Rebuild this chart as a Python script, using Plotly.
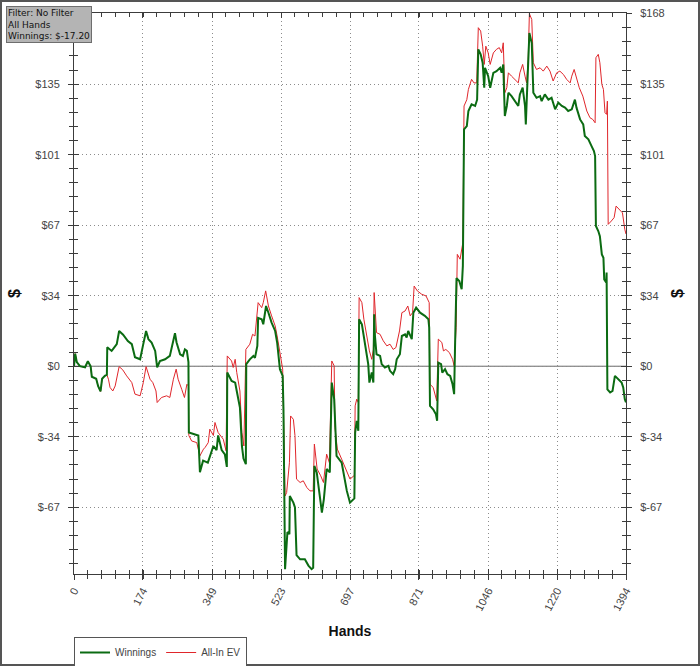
import plotly.graph_objects as go

# hands played / cumulative winnings ($)
win_hands = [0, 3, 7, 15, 28, 35, 42, 45, 56, 61, 67, 71, 78, 83, 84, 95, 98, 108, 114, 124,
             136, 146, 154, 167, 174, 182, 188, 196, 205, 210, 217, 230, 242, 247, 255, 259, 268, 275, 280, 285,
             289, 290, 301, 314, 318, 326, 338, 343, 352, 360, 364, 373, 381, 386, 387, 398, 407, 411, 419, 424,
             428, 434, 435, 444, 453, 457, 463, 465, 474, 478, 485, 491, 499, 508, 513, 520, 527, 529, 533, 539,
             544, 545, 554, 558, 562, 571, 583, 592, 600, 604, 607, 613, 621, 626, 631, 638, 646, 651, 657, 663,
             676, 689, 697, 708, 710, 714, 718, 720, 727, 732, 739, 743, 746, 752, 756, 758, 760, 764, 773, 777,
             785, 794, 798, 806, 811, 815, 823, 828, 836, 840, 844, 853, 857, 864, 874, 886, 895, 897, 899, 907,
             914, 917, 920, 927, 930, 937, 943, 950, 956, 960, 962, 966, 973, 979, 982, 985, 992, 996, 1004, 1013,
             1018, 1021, 1027, 1032, 1036, 1038, 1046, 1051, 1059, 1067, 1076, 1080, 1084, 1088, 1093, 1097, 1105, 1114, 1122, 1126,
             1133, 1139, 1141, 1145, 1150, 1156, 1160, 1168, 1177, 1181, 1189, 1198, 1206, 1215, 1223, 1232, 1240, 1248, 1257, 1265,
             1269, 1278, 1286, 1290, 1299, 1307, 1313, 1316, 1318, 1324, 1328, 1333, 1337, 1339, 1344, 1345, 1347, 1354, 1360, 1366,
             1375, 1383, 1387, 1391, 1394]
win_values = [0, 6, 2, 0, -0.5, 2.4, 0, -5, -6, -9.5, -12, -6, -4.6, -4, 9, 7.3, 8, 10.5, 16.8, 15,
              12, 10.5, 4.3, 3.3, 9.7, 16.8, 12.9, 11.3, 7.3, -0.5, 2.5, 3.3, 4.9, 9, 15.7, 11.3, 5.7, 4.9, 8, 7.3,
              2, -31.6, -32.4, -33, -50.5, -45, -45.9, -42.7, -38, -40, -33, -40, -42, -48, -3, -7, -7.8, -11.8, -19.7, -38,
              -44, -46.7, 1, 3.3, 4.9, 4, 9.7, 23, 22.4, 20, 28.7, 25.5, 20.8, 16.8, 11.3, -1.4, -4.6, -20.5, -96.7, -79,
              -80, -61.8, -65, -67.3, -90, -92, -92, -95, -96.7, -96, -47.5, -50.6, -61.8, -69.7, -63.3, -49, -50.6, -7.8, -15.7, -42.7,
              -46, -59.4, -65, -63, -31.6, -26, -30.8, 22.4, 20, 14.4, 7.3, 1, -7.8, -3, -7.8, 24.8, 14.4, 5.7, 4.9, 1,
              -0.6, 0.2, -2.2, -3.8, -1.4, 3.3, 5.7, 14.4, 15.2, 13.7, 16.8, 12.9, 25.5, 27.9, 25.5, 24, 22.4, 18.4, -18.9, -20.5,
              -22.9, -26, 1.7, 1, -3, -1.4, -3.8, -4.6, -8.6, -13.3, 7, 42, 40.6, 36.7, 47.8, 112.9, 114.4, 121.6, 124.8, 124,
              127, 151, 148.6, 144.6, 132.7, 142.2, 138.2, 132.7, 139.8, 140.6, 142.2, 139.8, 143.8, 119.2, 124, 130.3, 128.7, 126.3, 124, 129.5,
              132.7, 124, 115.2, 135, 158.8, 154, 130.3, 127.9, 128.7, 126.3, 129.5, 127, 127.9, 122.4, 125.6, 124, 123.2, 121.6, 122.4, 127,
              123.2, 117.6, 115.2, 109.7, 108.1, 104.9, 102.5, 100.1, 66.8, 64.4, 62, 53.3, 51.7, 41.4, 39.9, 44.6, -11, -12.5, -11.8, -4.6,
              -6.2, -7.8, -10.1, -15.7, -17.2]

# hands played / all-in adjusted expected value ($)
ev_hands = [0, 3, 7, 15, 28, 35, 42, 45, 56, 61, 67, 71, 78, 83, 87, 91, 98, 104, 114, 123,
            133, 140, 146, 154, 167, 175, 182, 192, 199, 207, 210, 221, 234, 242, 251, 258, 263, 272, 279, 285,
            289, 290, 297, 310, 318, 327, 331, 339, 343, 352, 356, 364, 377, 384, 387, 398, 402, 407, 411, 419,
            424, 429, 434, 444, 451, 457, 465, 474, 478, 484, 491, 499, 508, 513, 518, 527, 533, 537, 544, 547,
            554, 558, 562, 571, 579, 588, 596, 604, 607, 614, 623, 630, 638, 645, 651, 657, 659, 665, 676, 689,
            697, 708, 710, 714, 718, 720, 727, 732, 739, 746, 752, 756, 758, 761, 764, 773, 781, 790, 798, 806,
            813, 822, 828, 836, 843, 849, 855, 859, 867, 878, 889, 897, 899, 907, 916, 920, 929, 933, 939, 948,
            956, 960, 962, 965, 968, 975, 982, 985, 992, 996, 1004, 1010, 1017, 1021, 1027, 1032, 1036, 1040, 1046, 1051,
            1059, 1067, 1074, 1080, 1084, 1088, 1093, 1097, 1105, 1114, 1122, 1126, 1133, 1139, 1143, 1147, 1150, 1156, 1160, 1168,
            1177, 1185, 1194, 1202, 1210, 1219, 1227, 1236, 1244, 1253, 1257, 1263, 1269, 1276, 1285, 1290, 1295, 1303, 1310, 1316,
            1318, 1324, 1328, 1333, 1337, 1341, 1345, 1347, 1349, 1357, 1364, 1369, 1377, 1385, 1391, 1394]
ev_values = [0, 6, 2, 0, -0.5, 2.4, 0, -5, -6, -9.5, -12, -6, -4.6, -4, -6.2, -10.1, -11.8, -9.4, -0.2, -1.7,
             -4.6, -6.2, -7.8, -13.3, -14.1, -7.8, -0.2, -6.2, -7.8, -11.8, -17.3, -14.9, -14.1, -14.9, -6.2, -1.4, -6.2, -11, -14.9, -8.6,
             -9.4, -33, -35.6, -36.4, -42.7, -39.5, -38.7, -36.4, -30, -33, -26.8, -31.6, -34.8, -40.3, 4.9, 2.5, -0.6, 3.3, -3, -11.8,
             -31.6, -38, 8, 10.5, 15.2, 14.4, 30.3, 27.9, 30.3, 35.9, 28.7, 24, 19.2, 14.4, 8, -1.4, -61.8, -60.2, -46, -23.7,
             -25.3, -33, -53.8, -55.4, -54.6, -57.8, -59.4, -59.4, -37.1, -49, -52.2, -55.4, -41.9, -46, 2.5, 0.2, -29.2, -39.5, -44.3, -50.6,
             -53.8, -52, -18.9, -15.7, -17.3, 32.7, 30.3, 22.4, 14.4, 7.3, 3.3, 8, 35.1, 25.5, 16, 15.2, 12.1, 9.7, 10.5, 8,
             8.9, 16.8, 25.5, 26.3, 28.7, 24, 25.5, 38.2, 35.9, 34.3, 33.5, 30.3, -8.6, -10.1, -16.5, 12.9, 11.3, 7.3, 8, 6.5,
             3.3, 0.2, 8, 18.4, 53.3, 51, 58.9, 124, 127, 131.9, 136.7, 135, 135, 161.3, 159.7, 152.5, 143.8, 152.5, 149.3, 143.8,
             149.3, 151, 151.8, 149.3, 154.1, 130.3, 132.7, 139.8, 138.2, 136.7, 135, 139.8, 143.8, 138.2, 135, 146.2, 168, 165.2, 144.6, 141.4,
             142.2, 140.6, 143, 140.6, 135.9, 139.8, 140.6, 139, 136.7, 135, 138.2, 141.4, 136.7, 132.7, 128.7, 124.8, 121.6, 118.4, 117.6, 116,
             147, 148.6, 144.6, 134.3, 131.9, 120.8, 120, 126.3, 67.6, 69.2, 70.8, 76.3, 74.8, 73.1, 65.2, 63]

x_ticks = [0, 174, 349, 523, 697, 871, 1046, 1220, 1394]
y_tickvals = [-67.2, -33.6, 0, 33.6, 67.2, 100.8, 134.4, 168]
y_ticktext = ['$-67', '$-34', '$0', '$34', '$67', '$101', '$135', '$168']

W, H = 700, 666
M = dict(l=74, r=74, t=13, b=92, autoexpand=False)
PW, PH = W - M['l'] - M['r'], H - M['t'] - M['b']
AXIS_COLOR = '#3c3c3c'
GRID_COLOR = '#8c8c8c'
TICK_FONT = dict(family='Liberation Sans, Arial', size=11, color='#444444')
TITLE_FONT = dict(family='Liberation Sans, Arial', size=16, color='#111111')
X_RANGE = [0, 1394]
Y_RANGE = [-99, 168.3]


def px_x(px):
    return (px - M['l']) / PW


def px_y(py):
    return (H - M['b'] - py) / PH


fig = go.Figure()

fig.add_trace(go.Scatter(x=ev_hands, y=ev_values, mode='lines', name='All-In EV',
                         line=dict(color='#e0262b', width=1), legendrank=2))
fig.add_trace(go.Scatter(x=win_hands, y=win_values, mode='lines', name='Winnings',
                         line=dict(color='#0b6b12', width=2), legendrank=1))
# empty traces so the helper axes get drawn
for xa, ya in [('x2', 'y'), ('x', 'y2'), ('x', 'y3')]:
    fig.add_trace(go.Scatter(x=[None], y=[None], xaxis=xa, yaxis=ya, showlegend=False, hoverinfo='skip'))

common_x = dict(range=X_RANGE, tickvals=x_ticks, showline=True, linecolor=AXIS_COLOR, linewidth=1,
                tickcolor=AXIS_COLOR, zeroline=False, automargin=False)
common_y = dict(range=Y_RANGE, tickvals=y_tickvals, showline=True, linecolor=AXIS_COLOR, linewidth=1,
                tickcolor=AXIS_COLOR, zeroline=False, automargin=False)

fig.update_layout(
    width=W, height=H,
    margin=M,
    plot_bgcolor='white',
    paper_bgcolor='white',
    font=TICK_FONT,
    xaxis=dict(
        **common_x,
        ticktext=[str(v) for v in x_ticks],
        ticks='outside', ticklen=5,
        minor=dict(dtick=34.85, ticks='outside', ticklen=4, tickcolor=AXIS_COLOR, showgrid=False),
        tickangle=-62,
        tickfont=TICK_FONT,
        showgrid=True, gridcolor=GRID_COLOR, griddash='1px,3px', gridwidth=1,
        title=dict(text='<b>Hands</b>', font=dict(family='Liberation Sans, Arial', size=14, color='#111111'),
                   standoff=14),
    ),
    xaxis2=dict(
        **common_x,
        overlaying='x', side='bottom', anchor='y',
        ticks='inside', ticklen=5, mirror='ticks',
        minor=dict(dtick=34.85, ticks='inside', ticklen=4, tickcolor=AXIS_COLOR, showgrid=False),
        showticklabels=False, showgrid=False,
    ),
    yaxis=dict(
        **common_y,
        ticktext=y_ticktext,
        ticks='outside', ticklen=5, ticklabelstandoff=6,
        minor=dict(dtick=6.72, ticks='outside', ticklen=4, tickcolor=AXIS_COLOR, showgrid=False),
        tickfont=TICK_FONT,
        showgrid=True, gridcolor=GRID_COLOR, griddash='1px,3px', gridwidth=1,
        title=dict(text='<b>$</b>', font=TITLE_FONT, standoff=10),
    ),
    yaxis2=dict(
        **common_y,
        overlaying='y', side='right', anchor='x',
        ticktext=y_ticktext,
        ticks='outside', ticklen=5, ticklabelstandoff=6,
        minor=dict(dtick=6.72, ticks='outside', ticklen=4, tickcolor=AXIS_COLOR, showgrid=False),
        tickfont=TICK_FONT, showgrid=False,
        title=dict(text='<b>$</b>', font=TITLE_FONT, standoff=8),
    ),
    yaxis3=dict(
        **common_y,
        overlaying='y', side='left', anchor='x',
        ticks='inside', ticklen=5, mirror='ticks',
        minor=dict(dtick=6.72, ticks='inside', ticklen=4, tickcolor=AXIS_COLOR, showgrid=False),
        showticklabels=False, showgrid=False,
    ),
    legend=dict(
        orientation='h',
        x=px_x(74), y=px_y(637), xanchor='left', yanchor='top',
        bgcolor='white', bordercolor='#555555', borderwidth=1,
        font=dict(family='Liberation Sans, Arial', size=10, color='#444444'),
        itemwidth=30, tracegroupgap=0,
    ),
    showlegend=True,
)

# zero line
fig.add_shape(type='line', xref='paper', yref='y', x0=0, x1=1, y0=0, y1=0,
              line=dict(color='#6a6a6a', width=1), layer='below')

# info box
fig.add_annotation(
    xref='paper', yref='paper', x=px_x(6), y=px_y(6), xanchor='left', yanchor='top',
    text='Filter: No Filter<br>All Hands<br>Winnings: $-17.20',
    align='left', showarrow=False,
    font=dict(family='DejaVu Sans', size=9, color='#111111'),
    bgcolor='#b4b4b4', bordercolor='#6e6e6e', borderwidth=1, borderpad=1,
)

# outer frame
fig.add_shape(type='rect', xref='paper', yref='paper',
              x0=px_x(1), x1=px_x(W - 1), y0=px_y(H - 1), y1=px_y(1),
              line=dict(color='#555555', width=2), fillcolor='rgba(0,0,0,0)')

fig.write_html('out.html', config=dict(displayModeBar=False),
               post_script="document.body.style.margin='0';")
